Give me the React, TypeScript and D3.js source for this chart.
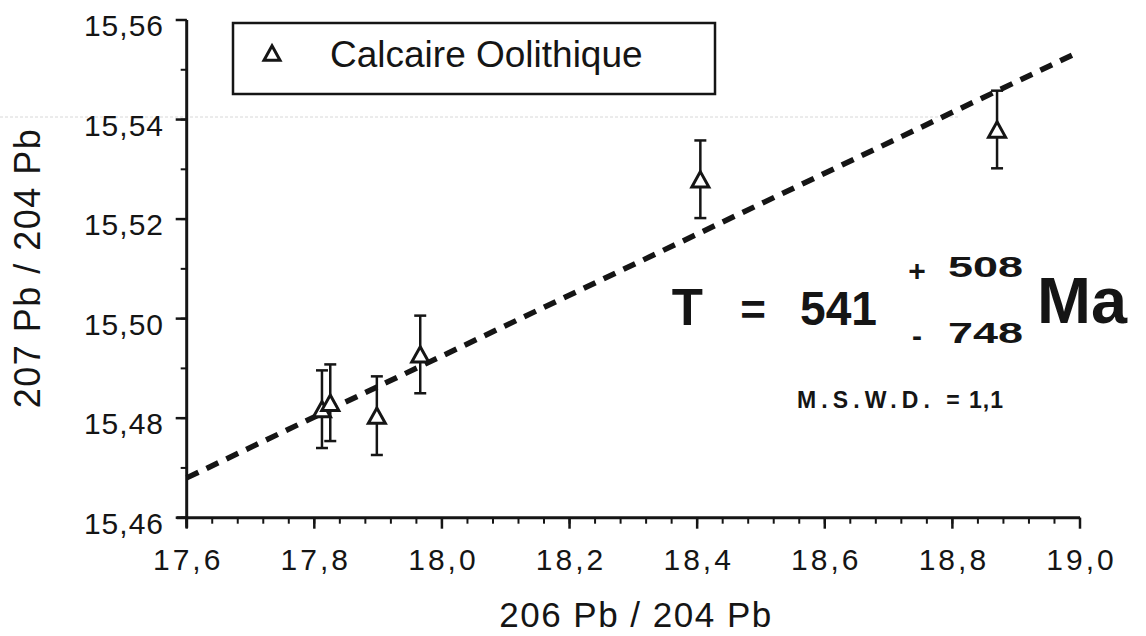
import * as d3 from "d3";

// 206Pb/204Pb vs 207Pb/204Pb, Calcaire Oolithique
const pb206 = [17.812, 17.825, 17.898, 17.966, 18.405, 18.87];
const pb207 = [15.4818, 15.4831, 15.4805, 15.4928, 15.528, 15.538];
const errors = [0.0078, 0.0077, 0.0079, 0.0078, 0.0078, 0.0078];

// isochron fit (two end points of the dashed line)
const fitX = [17.6, 19.0];
const fitY = [15.468, 15.5537];

const xMajor = [17.6, 17.8, 18.0, 18.2, 18.4, 18.6, 18.8, 19.0];
const yMajor = [15.46, 15.48, 15.5, 15.52, 15.54, 15.56];

const legendLabel = "Calcaire Oolithique";

const WIDTH = 1146;
const HEIGHT = 636;
const INK = "#151515";
const FONT = "'Liberation Sans', Arial, Helvetica, sans-serif";

const comma = (f: string) => (v: number) => d3.format(f)(v).replace(".", ",");

const Triangle = ({ cx, cy, size }: { cx: number; cy: number; size: number }) => {
  const h = size * 0.9;
  const pts = [
    [cx, cy - h / 2],
    [cx + size / 2, cy + h / 2],
    [cx - size / 2, cy + h / 2],
  ];
  return (
    <polygon
      points={pts.map((p) => p.join(",")).join(" ")}
      fill="white"
      stroke={INK}
      strokeWidth={3}
    />
  );
};

export default function App() {
  const x = d3.scaleLinear().domain([17.6, 19.0]).range([186.7, 1080]);
  const y = d3.scaleLinear().domain([15.46, 15.56]).range([517.7, 20]);

  const xMinor = d3.range(0, 36).map((i) => 17.6 + i * 0.04);
  const yMinor = d3.range(0, 11).map((i) => 15.46 + i * 0.01);

  const fitLine = d3
    .line<number>()
    .x((d, i) => x(fitX[i]))
    .y((d) => y(d))(fitY);

  const fmtX = comma(".1f");
  const fmtY = comma(".2f");

  return (
    <svg
      width={WIDTH}
      height={HEIGHT}
      style={{ position: "absolute", left: 0, top: 0, background: "white" }}
      fontFamily={FONT}
    >
      {/* faint scan line */}
      <line x1={0} x2={960} y1={117} y2={117} stroke="#d8d8d8" strokeWidth={1} strokeDasharray="3 2" />

      {/* axes */}
      <g stroke={INK}>
        <line x1={x(17.6)} x2={x(17.6)} y1={y(15.46) + 10} y2={y(15.56)} strokeWidth={3} />
        <line x1={x(17.6) - 10} x2={x(19.0)} y1={y(15.46)} y2={y(15.46)} strokeWidth={3} />
        {xMinor.map((v) => (
          <line key={"xm" + v} x1={x(v)} x2={x(v)} y1={y(15.46)} y2={y(15.46) + 6} strokeWidth={2} />
        ))}
        {xMajor.map((v) => (
          <line key={"xM" + v} x1={x(v)} x2={x(v)} y1={y(15.46)} y2={y(15.46) + 11} strokeWidth={2.5} />
        ))}
        {yMinor.map((v) => (
          <line key={"ym" + v} x1={x(17.6) - 6} x2={x(17.6)} y1={y(v)} y2={y(v)} strokeWidth={2} />
        ))}
        {yMajor.map((v) => (
          <line key={"yM" + v} x1={x(17.6) - 11} x2={x(17.6)} y1={y(v)} y2={y(v)} strokeWidth={2.5} />
        ))}
      </g>

      {/* tick labels */}
      <g fill={INK} fontSize={30}>
        {xMajor.map((v) => (
          <text key={"xl" + v} x={x(v) + 1.5} y={570} textAnchor="middle" letterSpacing={3}>
            {fmtX(v)}
          </text>
        ))}
        {yMajor.map((v) => (
          <text key={"yl" + v} x={164} y={y(v) + 16} textAnchor="end" letterSpacing={1}>
            {fmtY(v)}
          </text>
        ))}
      </g>

      {/* axis titles */}
      <text x={636} y={627} textAnchor="middle" fontSize={35} letterSpacing={1.5} fill={INK}>
        206 Pb / 204 Pb
      </text>
      <text
        transform={"translate(40," + 268 + ") rotate(-90)"}
        textAnchor="middle"
        fontSize={36}
        letterSpacing={1.5}
        fill={INK}
      >
        207 Pb / 204 Pb
      </text>

      {/* isochron */}
      <path d={fitLine || undefined} fill="none" stroke={INK} strokeWidth={5.5} strokeDasharray="13 9" />

      {/* error bars + points */}
      {pb206.map((v, i) => {
        const cx = x(v);
        const top = y(pb207[i] + errors[i]);
        const bot = y(pb207[i] - errors[i]);
        return (
          <g key={"p" + i}>
            <line x1={cx} x2={cx} y1={top} y2={bot} stroke={INK} strokeWidth={2.5} />
            <line x1={cx - 6} x2={cx + 6} y1={top} y2={top} stroke={INK} strokeWidth={2.5} />
            <line x1={cx - 6} x2={cx + 6} y1={bot} y2={bot} stroke={INK} strokeWidth={2.5} />
            <Triangle cx={cx} cy={y(pb207[i])} size={17} />
          </g>
        );
      })}

      {/* legend */}
      <rect x={233} y={23} width={482} height={71} fill="white" stroke={INK} strokeWidth={2.5} />
      <Triangle cx={272} cy={53} size={16} />
      <text x={330} y={66.5} fontSize={37} fill={INK}>
        {legendLabel}
      </text>

      {/* age annotation */}
      <g fill={INK} fontWeight="bold">
        <text x={703} y={325} textAnchor="end" fontSize={51}>T</text>
        <text x={753} y={325} textAnchor="middle" fontSize={44}>=</text>
        <text x={800} y={325} fontSize={48} textLength={77} lengthAdjust="spacingAndGlyphs">541</text>
        <text x={917} y={281} textAnchor="middle" fontSize={30}>+</text>
        <text x={948} y={277} fontSize={30} textLength={75} lengthAdjust="spacingAndGlyphs">508</text>
        <text x={917} y={346} textAnchor="middle" fontSize={30}>-</text>
        <text x={948} y={343} fontSize={30} textLength={75} lengthAdjust="spacingAndGlyphs">748</text>
        <text x={1037} y={323} fontSize={64} textLength={90} lengthAdjust="spacingAndGlyphs">Ma</text>
        <text x={797} y={408} fontSize={23} textLength={133} lengthAdjust="spacing">M.S.W.D.</text>
        <text x={953} y={408} textAnchor="middle" fontSize={23}>=</text>
        <text x={969} y={408} fontSize={23} letterSpacing={1}>1,1</text>
      </g>
    </svg>
  );
}
